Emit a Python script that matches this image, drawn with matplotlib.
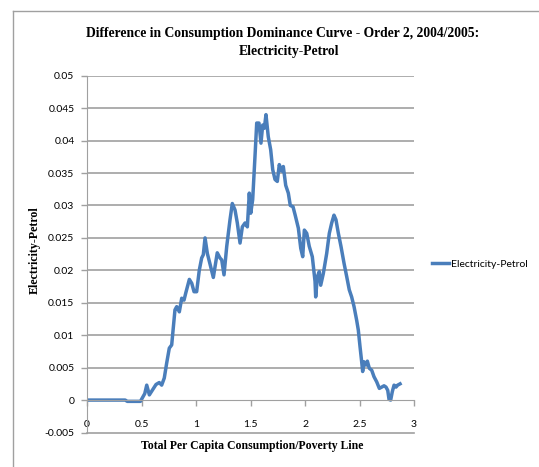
import matplotlib
matplotlib.use("Agg")
import matplotlib.pyplot as plt
from matplotlib.lines import Line2D

# curve (x = consumption / poverty line)
x_ratio = [0.0, 0.35, 0.37, 0.49, 0.53, 0.548, 0.572, 0.633, 0.663, 0.685,
           0.709, 0.731, 0.755, 0.777, 0.807, 0.823, 0.847, 0.869, 0.89, 0.906,
           0.939, 0.961, 0.982, 1.006, 1.03, 1.052, 1.067, 1.083, 1.104, 1.128,
           1.159, 1.195, 1.22, 1.236, 1.257, 1.282, 1.312, 1.333, 1.358, 1.379,
           1.404, 1.425, 1.45, 1.471, 1.489, 1.502, 1.52, 1.541, 1.557, 1.578,
           1.596, 1.612, 1.627, 1.642, 1.663, 1.685, 1.704, 1.725, 1.746, 1.764,
           1.786, 1.801, 1.823, 1.847, 1.865, 1.89, 1.91, 1.939, 1.961, 1.979,
           1.994, 2.016, 2.039, 2.067, 2.092, 2.098, 2.113, 2.131, 2.144, 2.168,
           2.199, 2.223, 2.245, 2.266, 2.284, 2.306, 2.33, 2.358, 2.383, 2.406,
           2.428, 2.45, 2.474, 2.489, 2.505, 2.52, 2.529, 2.541, 2.56, 2.572,
           2.59, 2.612, 2.633, 2.658, 2.682, 2.704, 2.725, 2.743, 2.759, 2.771,
           2.786, 2.801, 2.817, 2.835, 2.85, 2.872]
diff = [0.0, 0.0, -0.0002, -0.0002, 0.001, 0.0023, 0.0008, 0.0024, 0.0027, 0.0023,
        0.0034, 0.0057, 0.008, 0.0085, 0.0139, 0.0144, 0.0136, 0.0157, 0.0154, 0.0165,
        0.0186, 0.018, 0.0167, 0.0167, 0.02, 0.0219, 0.0224, 0.025, 0.0226, 0.021,
        0.0189, 0.0227, 0.0219, 0.0216, 0.0193, 0.0237, 0.0278, 0.0303, 0.0293, 0.0273,
        0.0242, 0.0267, 0.0273, 0.0267, 0.0319, 0.0288, 0.0309, 0.0375, 0.0427, 0.0427,
        0.0396, 0.0424, 0.0419, 0.044, 0.0406, 0.0386, 0.0355, 0.034, 0.0337, 0.0363,
        0.0353, 0.036, 0.0331, 0.0319, 0.03, 0.0298, 0.0285, 0.0265, 0.0234, 0.0221,
        0.0262, 0.0257, 0.0237, 0.0221, 0.0183, 0.0159, 0.019, 0.0198, 0.0177, 0.0195,
        0.0226, 0.0257, 0.0273, 0.0285, 0.0278, 0.0257, 0.0237, 0.0211, 0.019, 0.017,
        0.0159, 0.0144, 0.0123, 0.0108, 0.0082, 0.0059, 0.0044, 0.0059, 0.0054, 0.006,
        0.0049, 0.0046, 0.0036, 0.0028, 0.0018, 0.002, 0.0022, 0.002, 0.0015, 0.0001,
        0.0, 0.0013, 0.0023, 0.002, 0.0023, 0.0025]

x_ticks = [0, 0.5, 1, 1.5, 2, 2.5, 3]
x_tick_labels = ["0", "0.5", "1", "1.5", "2", "2.5", "3"]
y_ticks = [-0.005, 0, 0.005, 0.01, 0.015, 0.02, 0.025, 0.03, 0.035, 0.04, 0.045, 0.05]
y_tick_labels = ["-0.005", "0", "0.005", "0.01", "0.015", "0.02", "0.025",
                 "0.03", "0.035", "0.04", "0.045", "0.05"]

grid_col = "#a0a0a0"
line_col = "#4a7ebb"
serif = "Liberation Serif"
sans = "Lato"

fig = plt.figure(figsize=(5.39, 4.67), dpi=100)
ax = fig.add_axes([87 / 539, 1 - 432.5 / 467, 327 / 539, 356.8 / 467])

ax.plot(x_ratio, diff, color=line_col, lw=2.5, solid_joinstyle="round",
        label="Electricity-Petrol")
ax.set_xlim(0, 3)
ax.set_ylim(-0.005, 0.05)

for v in y_ticks[2:]:
    ax.axhline(v, color=grid_col, lw=1.2, zorder=0)
ax.axhline(-0.005, color=grid_col, lw=1.2, zorder=0, clip_on=False)

for s in ["top", "right"]:
    ax.spines[s].set_visible(False)
ax.spines["left"].set_color(grid_col)
ax.spines["bottom"].set_color(grid_col)
ax.spines["bottom"].set_position(("data", 0))

ax.set_xticks(x_ticks)
ax.set_xticklabels(x_tick_labels, fontfamily=sans, fontsize=7.5)
ax.set_yticks(y_ticks)
ax.set_yticklabels(y_tick_labels, fontfamily=sans, fontsize=7.5)
ax.tick_params(axis="x", direction="out", length=4, width=1, color=grid_col, pad=10)
ax.tick_params(axis="y", direction="out", length=4, width=1, color=grid_col, pad=5)

fig.text(283 / 539, 1 - 33 / 467,
         "Difference in Consumption Dominance Curve - Order 2, 2004/2005:",
         ha="center", va="center", family=serif, weight="bold", fontsize=9.8)
fig.text(289 / 539, 1 - 51 / 467, "Electricity-Petrol",
         ha="center", va="center", family=serif, weight="bold", fontsize=9.8)
fig.text(252 / 539, 1 - 446 / 467, "Total Per Capita Consumption/Poverty Line",
         ha="center", va="center", family=serif, weight="bold", fontsize=8.5)
fig.text(35 / 539, 1 - 250 / 467, "Electricity-Petrol", rotation=90,
         ha="center", va="center", family=serif, weight="bold", fontsize=8.6)

ax.legend(loc="center left", bbox_to_anchor=(432 / 539, 1 - 264 / 467),
          bbox_transform=fig.transFigure, frameon=False, handlelength=1.6,
          handletextpad=0.2, borderaxespad=0, borderpad=0,
          prop={"family": sans, "size": 7.5})

# chart border as in the source sheet
fig.add_artist(Line2D([13 / 539, 13 / 539], [0, 1 - 11 / 467],
                      transform=fig.transFigure, color="#a0a0a0", lw=1))
fig.add_artist(Line2D([13 / 539, 1], [1 - 11 / 467, 1 - 11 / 467],
                      transform=fig.transFigure, color="#a0a0a0", lw=1))

fig.savefig("out.png", dpi=100)
plt.close(fig)
